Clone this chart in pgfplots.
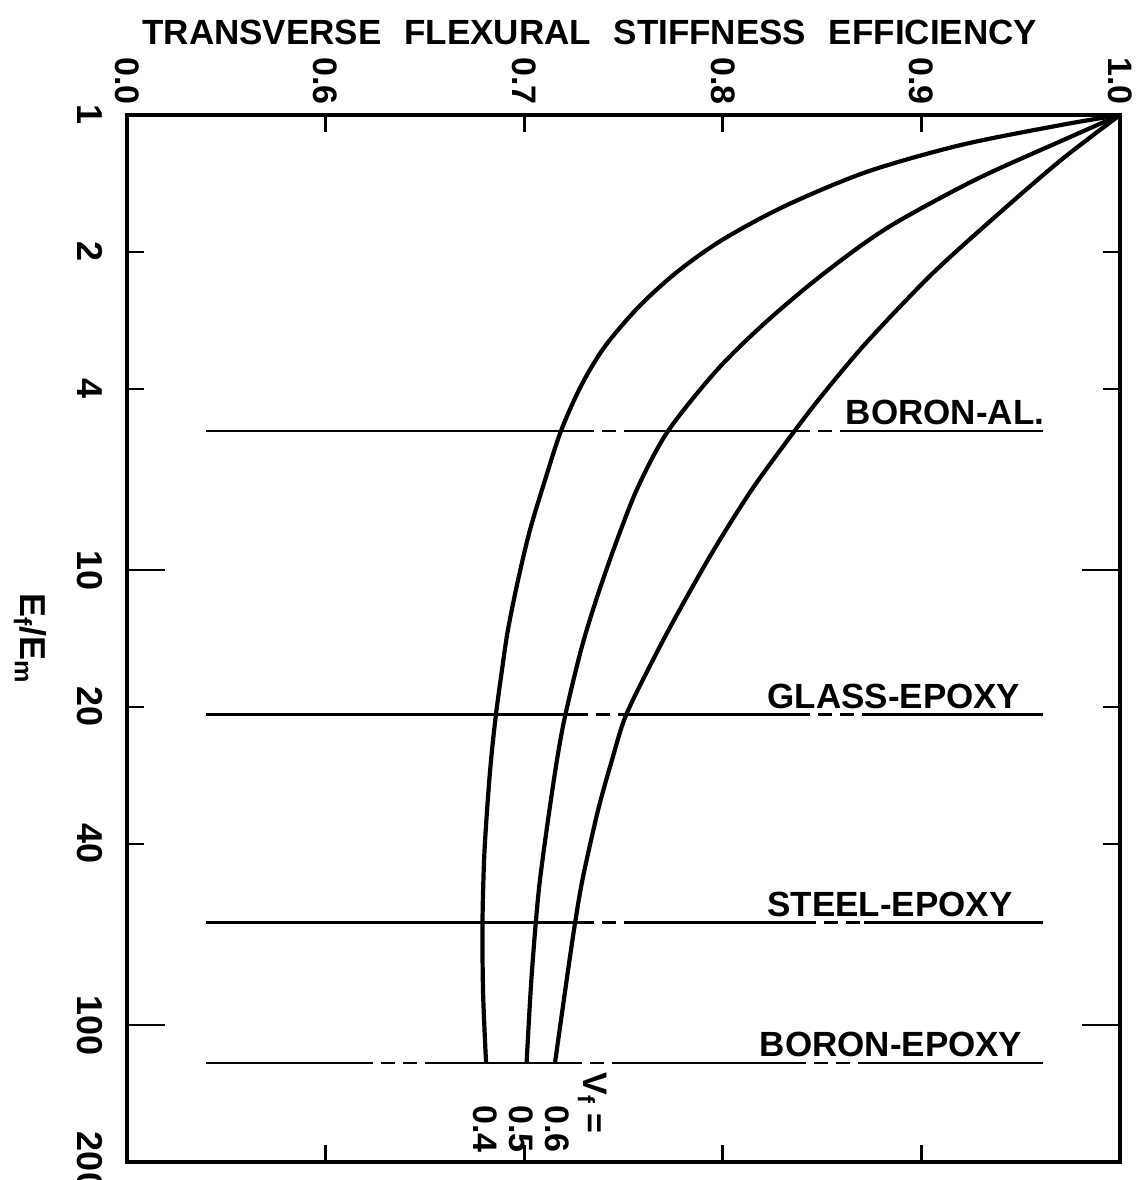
\documentclass[border=0pt]{standalone}
\usepackage{fontspec}
\setmainfont{Liberation Sans}
\usepackage{pgfplots}
\pgfplotsset{compat=1.18}
\newcommand{\fs}[2]{\fontsize{#1}{#2}\selectfont\bfseries}

\begin{document}
\begin{tikzpicture}[x=1pt,y=1pt]
\useasboundingbox (0,0) rectangle (568.5,590);
\begin{axis}[
  at={(63.5pt,9pt)}, anchor=south west,
  scale only axis, width=496.5pt, height=523.5pt,
  xmin=0.5, xmax=1.0, ymin=1, ymax=200,
  ymode=log, y dir=reverse,
  clip=false,
  axis line style={line width=2pt},
  every tick/.style={line width=1.4pt, black},
  tick align=inside,
  major tick length=8.5pt,
  minor tick length=0pt,
  xtick={0.5,0.6,0.7,0.8,0.9,1.0},
  xticklabels={0.0,0.6,0.7,0.8,0.9,1.0},
  xticklabel pos=top,
  xticklabel style={rotate=-90, anchor=east, inner sep=5pt, font=\fs{17}{17}},
  ytick={1,2,4,20,40,200},
  yticklabels={1,2,4,20,40,200},
  extra y ticks={10,100},
  extra y tick labels={10,100},
  extra y tick style={major tick length=19pt},
  yticklabel pos=left,
  yticklabel style={rotate=-90, anchor=north, inner sep=12pt, font=\fs{18}{18}},
  /pgf/number format/assume math mode=true,
]
% V_f = 0.4
\addplot[line width=2.1pt, smooth, tension=0.5] coordinates {
(1.000,1.000) (0.9703,1.052) (0.9199,1.164) (0.8724,1.334) (0.8313,1.585) (0.7996,1.883)
(0.7769,2.214) (0.7576,2.642) (0.7404,3.236) (0.7286,3.941) (0.7185,4.950) (0.7105,6.342)
(0.7029,8.170) (0.6969,10.52) (0.6918,13.55) (0.6888,16.59) (0.6858,20.73) (0.6833,26.16)
(0.6813,33.7) (0.6798,43.4) (0.6790,59.7) (0.6793,85.1) (0.6808,121.2)};
% V_f = 0.5
\addplot[line width=2.1pt, smooth, tension=0.5] coordinates {
(1.000,1.000) (0.9703,1.141) (0.9270,1.389) (0.8827,1.772) (0.8499,2.247) (0.8212,2.865)
(0.7971,3.634) (0.7724,4.950) (0.7573,6.57) (0.7462,8.72) (0.7362,11.64) (0.7286,14.99)
(0.7208,20.73) (0.7165,26.16) (0.7115,36.7) (0.7072,51.3) (0.7037,78.4) (0.7012,121.2)};
% V_f = 0.6
\addplot[line width=2.1pt, smooth, tension=0.5] coordinates {
(1.000,1.000) (0.9703,1.256) (0.9376,1.667) (0.9048,2.247) (0.8721,3.171) (0.8505,4.105)
(0.8361,4.950) (0.8152,6.60) (0.7966,8.86) (0.7810,11.64) (0.7674,14.99) (0.7515,20.73)
(0.7442,26.16) (0.7372,33.7) (0.7296,47.3) (0.7256,59.7) (0.7216,78.4) (0.7155,121.2)};

% BORON-AL
\addplot[line width=1.3pt] coordinates {(0.540,4.95) (0.728,4.95)};
\addplot[line width=1.3pt, dash pattern=on 7pt off 4pt] coordinates {(0.728,4.95) (0.753,4.95)};
\addplot[line width=1.3pt] coordinates {(0.753,4.95) (0.837,4.95)};
\addplot[line width=1.3pt, dash pattern=on 7pt off 4pt] coordinates {(0.837,4.95) (0.864,4.95)};
\addplot[line width=1.3pt] coordinates {(0.864,4.95) (0.961,4.95)};
% GLASS-EPOXY
\addplot[line width=1.3pt] coordinates {(0.540,20.8) (0.725,20.8)};
\addplot[line width=1.3pt, dash pattern=on 7pt off 4pt] coordinates {(0.725,20.8) (0.750,20.8)};
\addplot[line width=1.3pt] coordinates {(0.750,20.8) (0.837,20.8)};
\addplot[line width=1.3pt, dash pattern=on 7pt off 4pt] coordinates {(0.837,20.8) (0.876,20.8)};
\addplot[line width=1.3pt] coordinates {(0.876,20.8) (0.961,20.8)};
% STEEL-EPOXY
\addplot[line width=1.3pt] coordinates {(0.540,59.6) (0.728,59.6)};
\addplot[line width=1.3pt, dash pattern=on 7pt off 4pt] coordinates {(0.728,59.6) (0.752,59.6)};
\addplot[line width=1.3pt] coordinates {(0.752,59.6) (0.840,59.6)};
\addplot[line width=1.3pt, dash pattern=on 7pt off 4pt] coordinates {(0.840,59.6) (0.871,59.6)};
\addplot[line width=1.3pt] coordinates {(0.871,59.6) (0.961,59.6)};
% BORON-EPOXY
\addplot[line width=1.3pt] coordinates {(0.540,121.2) (0.617,121.2)};
\addplot[line width=1.3pt, dash pattern=on 7pt off 4pt] coordinates {(0.617,121.2) (0.654,121.2)};
\addplot[line width=1.3pt] coordinates {(0.654,121.2) (0.722,121.2)};
\addplot[line width=1.3pt, dash pattern=on 7pt off 4pt] coordinates {(0.722,121.2) (0.748,121.2)};
\addplot[line width=1.3pt] coordinates {(0.748,121.2) (0.835,121.2)};
\addplot[line width=1.3pt, dash pattern=on 7pt off 4pt] coordinates {(0.835,121.2) (0.868,121.2)};
\addplot[line width=1.3pt] coordinates {(0.868,121.2) (0.961,121.2)};

\node[anchor=south east, inner sep=0pt, yshift=3pt, font=\fs{17.5}{17.5}] at (axis cs:0.962,4.95) {BORON-AL.};
\node[anchor=south east, inner sep=0pt, yshift=3pt, font=\fs{17.5}{17.5}] at (axis cs:0.950,20.8) {GLASS-EPOXY};
\node[anchor=south east, inner sep=0pt, yshift=3pt, font=\fs{17.5}{17.5}] at (axis cs:0.946,59.6) {STEEL-EPOXY};
\node[anchor=south east, inner sep=0pt, yshift=3pt, font=\fs{17.5}{17.5}] at (axis cs:0.951,121.2) {BORON-EPOXY};

\node[rotate=-90, anchor=north west, align=left, inner sep=0pt, font=\fs{17}{18}] at (axis cs:0.7231,150) {0.6\\0.5\\0.4};
\node[rotate=-90, anchor=north west, inner sep=0pt, font=\fs{17}{18}] at (axis cs:0.7417,127) {V\textsubscript{f} =};

\node[xshift=-48.5pt, rotate=-90, font=\fs{18}{18}] at (rel axis cs:0,0.5) {E\textsubscript{f}/E\textsubscript{m}};
\node[font=\fs{17.5}{17.5}] at (rel axis cs:0.466,1) [yshift=41.5pt] {TRANSVERSE\hspace{0.65em}FLEXURAL\hspace{0.65em}STIFFNESS\hspace{0.65em}EFFICIENCY};
\end{axis}
\end{tikzpicture}
\end{document}
